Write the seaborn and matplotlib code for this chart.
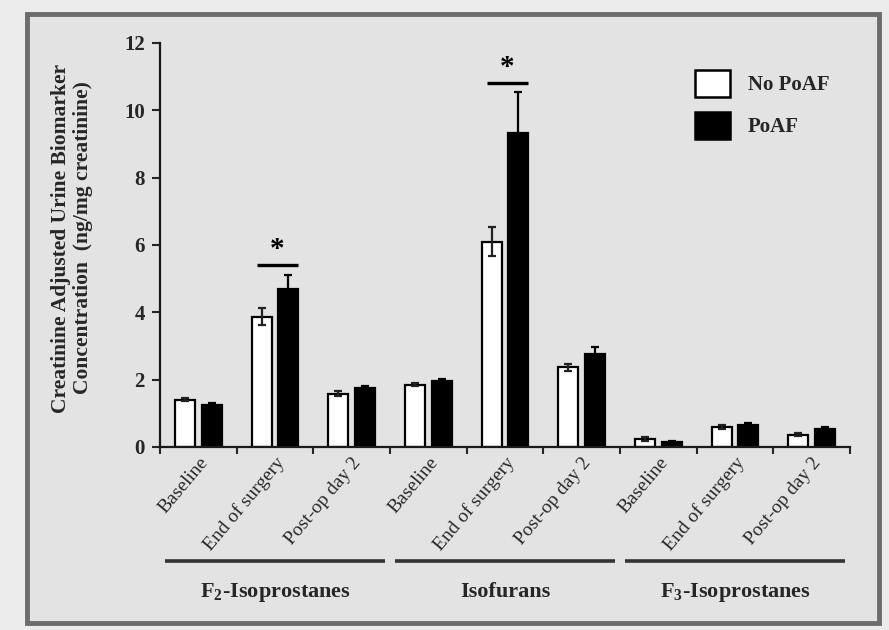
import matplotlib
matplotlib.use("Agg")
import matplotlib.pyplot as plt
import matplotlib.transforms as mtransforms
from matplotlib.patches import Rectangle, Patch
import numpy as np
import pandas as pd
import seaborn as sns

# ---------------- data ----------------
groups = ["F$_\\mathbf{2}$-Isoprostanes", "Isofurans", "F$_\\mathbf{3}$-Isoprostanes"]
timepoints = ["Baseline", "End of surgery", "Post-op day 2"]
series = ["No PoAF", "PoAF"]

no_poaf_mean = [1.41, 3.87, 1.58, 1.85, 6.09, 2.37, 0.24, 0.59, 0.37]
no_poaf_err = [0.05, 0.26, 0.07, 0.05, 0.43, 0.10, 0.05, 0.07, 0.04]
poaf_mean = [1.24, 4.70, 1.75, 1.96, 9.33, 2.75, 0.15, 0.64, 0.53]
poaf_err = [0.06, 0.42, 0.07, 0.07, 1.21, 0.22, 0.02, 0.08, 0.06]

sig_categories = [1, 4]          # End of surgery for F2-IsoPs and Isofurans
sig_line_values = [5.4, 10.8]
y_ticks = [0, 2, 4, 6, 8, 10, 12]

# ---------------- table ----------------
cat_ids = [f"{g}|{t}" for g in groups for t in timepoints]
df = pd.DataFrame({
    "category": cat_ids * 2,
    "status": [series[0]] * 9 + [series[1]] * 9,
    "value": no_poaf_mean + poaf_mean,
    "err": no_poaf_err + poaf_err,
})

# ---------------- style ----------------
sns.set_theme(style="ticks")
plt.rcParams["font.family"] = ["Liberation Serif", "DejaVu Serif"]
plt.rcParams["mathtext.fontset"] = "custom"
plt.rcParams["mathtext.rm"] = "Liberation Serif:bold"
plt.rcParams["mathtext.bf"] = "Liberation Serif:bold"

W, H = 889, 630
fig = plt.figure(figsize=(W / 100, H / 100), dpi=100)
fig.patch.set_facecolor("#ececec")

# outer frame
frame = Rectangle((27 / W, 1 - 623 / H), (879 - 27) / W, (623 - 14) / H,
                  transform=fig.transFigure, facecolor="#e3e3e3",
                  edgecolor="#6c6c6c", linewidth=3.5, zorder=-5)
fig.patches.append(frame)

ax = fig.add_axes([160 / W, 1 - 447 / H, (850 - 160) / W, (447 - 43) / H])
ax.set_facecolor("none")
ax.set_zorder(3)

sns.barplot(data=df, x="category", y="value", hue="status", order=cat_ids,
            hue_order=series, palette=["white", "black"], width=0.7, gap=0.25,
            edgecolor="black", linewidth=1.6, errorbar=None, ax=ax,
            legend=False, saturation=1)

# error bars from the bar patches
bars = [p for p in ax.patches if isinstance(p, Rectangle)]
nbars = len(cat_ids)
for i, s in enumerate(series):
    sub = df[df["status"] == s]
    for j, (v, e) in enumerate(zip(sub["value"], sub["err"])):
        b = bars[i * nbars + j]
        xc = b.get_x() + b.get_width() / 2
        ax.errorbar(xc, v, yerr=e, fmt="none", ecolor="black" if i == 1 else "#222222",
                    elinewidth=1.6, capsize=3, capthick=1.6, zorder=5)

# significance lines
for c, yl in zip(sig_categories, sig_line_values):
    ax.plot([c - 0.24, c + 0.3], [yl, yl], color="black", lw=2.4, solid_capstyle="butt",
            zorder=6)
    ax.text(c + 0.03, yl + 0.06, "*", ha="center", va="bottom", fontsize=21,
            fontweight="bold", color="black")

# axes
ax.set_xlim(-0.5, 8.5)
ax.set_ylim(0, 12)
ax.set_yticks(y_ticks)
ax.set_yticklabels([str(t) for t in y_ticks], fontsize=15, fontweight="bold")
ax.set_xticks(range(9))
ax.set_xticklabels(timepoints * 3, rotation=50, ha="right", rotation_mode="anchor",
                   fontsize=14)
ax.set_xticks(np.arange(-0.5, 9.0, 1.0), minor=True)
ax.tick_params(axis="x", which="major", length=0, pad=5)
ax.tick_params(axis="x", which="minor", length=5, width=1.5, direction="out")
ax.tick_params(axis="y", length=6, width=1.5, direction="out", pad=5)
ax.set_xlabel("")
ax.set_ylabel("")
for sp in ["top", "right"]:
    ax.spines[sp].set_visible(False)
for sp in ["left", "bottom"]:
    ax.spines[sp].set_linewidth(1.6)
    ax.spines[sp].set_color("#1a1a1a")

# y label
fig.text(72 / W, 1 - 238 / H,
         "Creatinine Adjusted Urine Biomarker\nConcentration  (ng/mg creatinine)",
         rotation=90, ha="center", va="center", multialignment="center",
         fontsize=15.5, fontweight="bold", linespacing=1.1, zorder=4)

# group lines and labels
trans = mtransforms.blended_transform_factory(ax.transData, fig.transFigure)
for g, name in enumerate(groups):
    center = 3 * g + 1
    ax.plot([center - 1.43, center + 1.43], [1 - 561 / H] * 2, transform=trans,
            color="#333333", lw=2.6, clip_on=False, solid_capstyle="butt")
    ax.text(center, 1 - 592 / H, name, transform=trans, ha="center", va="center",
            fontsize=16, fontweight="bold")

# legend
handles = [Patch(facecolor="white", edgecolor="black", linewidth=1.8, label=series[0]),
           Patch(facecolor="black", edgecolor="black", linewidth=1.8, label=series[1])]
ax.legend(handles=handles, loc="upper left", bbox_to_anchor=(695 / W, 1 - 70 / H),
          bbox_transform=fig.transFigure, frameon=False, borderpad=0,
          borderaxespad=0, handlelength=1.68, handleheight=1.62,
          handletextpad=0.87, labelspacing=0.72,
          prop={"family": "Liberation Serif", "weight": "bold", "size": 15})

fig.savefig("out.png", dpi=100, facecolor=fig.get_facecolor())
